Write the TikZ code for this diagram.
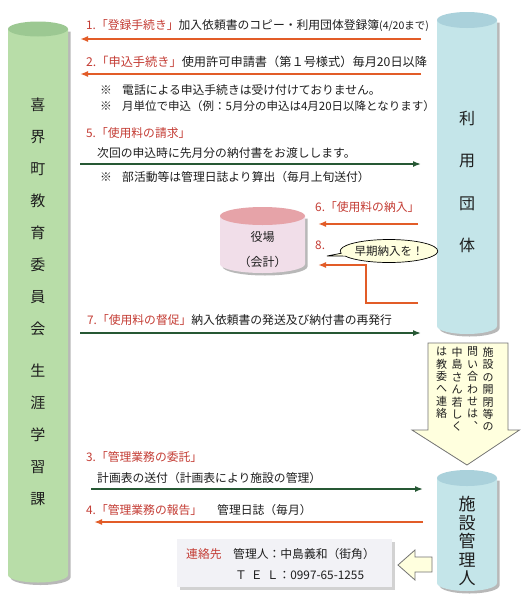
\documentclass[tikz,border=0pt]{standalone}
\usepackage{fontspec}
\newfontfamily\jp{Noto Sans CJK JP}
\usetikzlibrary{arrows.meta,shadows,shapes.callouts}
\definecolor{labred}{RGB}{196,60,52}
\definecolor{orng}{RGB}{226,92,40}
\definecolor{dgreen}{RGB}{38,88,52}
\definecolor{gbody}{RGB}{184,221,168}
\definecolor{gtop}{RGB}{156,200,146}
\definecolor{cbody}{RGB}{196,229,233}
\definecolor{ctop}{RGB}{170,209,219}
\definecolor{pbody}{RGB}{241,222,233}
\definecolor{ptop}{RGB}{230,163,168}
\definecolor{ylw}{RGB}{255,255,222}
\definecolor{boxgray}{RGB}{242,242,246}
\definecolor{txt}{RGB}{30,30,30}
\newcommand\mycyl[7]{%
  \fill[#6, drop shadow={shadow xshift=2.5pt,shadow yshift=-2.5pt,fill=black!55}]
    ({#1-#2},#3) -- ({#1-#2},#4) arc[start angle=180,end angle=360,x radius=#2pt,y radius=#5pt] -- ({#1+#2},#3) -- cycle;
  \fill[#7] (#1,#3) ellipse[x radius=#2pt,y radius=#5pt];
}
\begin{document}
\begin{tikzpicture}[x=1pt,y=-1pt,
  lab/.style={anchor=west,inner sep=0pt,text=txt,font=\jp\fontsize{11.8}{13}\selectfont},
  cyltext/.style={align=center,inner sep=0pt,text=txt},
  oarrow/.style={draw=orng,line width=1.8pt,-{Latex[length=8pt,width=6pt]}},
  garrow/.style={draw=dgreen,line width=1.5pt,-{Latex[length=8pt,width=6pt]}},
  hollow/.style={draw=black!55,line width=0.8pt,fill=ylw},
  vcol/.style={align=center,inner sep=0pt,text=txt,font=\jp\fontsize{11}{12.4}\selectfont}]
\useasboundingbox (0,0) rectangle (520,600);
\fill[white] (0,0) rectangle (520,600);

% cylinders
\mycyl{38}{30}{29}{575}{7.5}{gbody}{gtop}
\mycyl{467}{30}{20}{326}{8}{cbody}{ctop}
\mycyl{467}{30}{478}{583}{8}{cbody}{ctop}
\mycyl{262.5}{42.5}{216}{264}{9}{pbody}{ptop}

\node[cyltext,font=\jp\fontsize{15}{32}\selectfont] (kyoiku) at (38,302)
  {喜\\界\\町\\教\\育\\委\\員\\会\\[10pt]生\\涯\\学\\習\\課};
\node[cyltext,font=\jp\fontsize{16}{42.3}\selectfont] (dantai) at (467,182) {利\\用\\団\\体};
\node[cyltext,font=\jp\fontsize{17}{18.5}\selectfont] (kanri) at (467,541) {施\\設\\管\\理\\人};
\node[cyltext,font=\jp\fontsize{12}{25}\selectfont] (yakuba) at (262.5,250) {役場\\（会計）};

% coordinates for connectors
\coordinate (a1s) at (421,39);  \coordinate (a1e) at (80,39);
\coordinate (a2s) at (421,74);  \coordinate (a2e) at (80,74);
\coordinate (a5s) at (80,164);  \coordinate (a5e) at (421,164);
\coordinate (a6s) at (418,224); \coordinate (a6e) at (318,224);
\coordinate (a8s) at (418,303); \coordinate (a8m) at (366,265); \coordinate (a8e) at (318,265);
\coordinate (a7s) at (80,333);  \coordinate (a7e) at (421,333);
\coordinate (a3s) at (91,489);  \coordinate (a3e) at (423,489);
\coordinate (a4s) at (423,522); \coordinate (a4e) at (94,522);

\draw[oarrow] (a1s) -- (a1e);
\draw[oarrow] (a2s) -- (a2e);
\draw[garrow] (a5s) -- (a5e);
\draw[oarrow] (a6s) -- (a6e);
\draw[oarrow] (a8s) -| (a8m) -- (a8e);
\draw[garrow] (a7s) -- (a7e);
\draw[garrow] (a3s) -- (a3e);
\draw[oarrow] (a4s) -- (a4e);

% labels
\node[lab] (l1) at (86,26) {\textcolor{labred}{1.「登録手続き」}加入依頼書のコピー・利用団体登録簿{\fontsize{10.5}{11}\selectfont(4/20まで)}};
\node[lab,font=\jp\fontsize{12.2}{13}\selectfont] (l2) at (86,62) {\textcolor{labred}{2.「申込手続き」}使用許可申請書（第１号様式）毎月20日以降};
\node[lab] (n1m) at (100,90) {※};
\node[lab] (n1) at (122,90) {電話による申込手続きは受け付けておりません。};
\node[lab] (n2m) at (100,106) {※};
\node[lab,font=\jp\fontsize{11.5}{13}\selectfont] (n2) at (122,106) {月単位で申込（例：5月分の申込は4月20日以降となります）};
\node[lab] (l5) at (86,133) {\textcolor{labred}{5.「使用料の請求」}};
\node[lab] (t5) at (97,153) {次回の申込時に先月分の納付書をお渡しします。};
\node[lab] (n3m) at (100,177) {※};
\node[lab] (n3) at (122,177) {部活動等は管理日誌より算出（毎月上旬送付）};
\node[lab] (l6) at (315,207) {\textcolor{labred}{6.「使用料の納入」}};
\node[lab] (l8) at (315,245) {\textcolor{labred}{8.}};
\node[lab] (l7) at (87,320) {\textcolor{labred}{7.「使用料の督促」}納入依頼書の発送及び納付書の再発行};
\node[lab] (l3) at (86,457) {\textcolor{labred}{3.「管理業務の委託」}};
\node[lab] (t3) at (97,478) {計画表の送付（計画表により施設の管理）};
\node[lab] (l4) at (86,510) {\textcolor{labred}{4.「管理業務の報告」}};
\node[lab] (t4) at (217,510) {管理日誌（毎月）};

% callout
\node[ellipse callout,draw=black,line width=0.7pt,fill=ylw,minimum width=88pt,minimum height=23pt,inner sep=0pt,
  callout absolute pointer={(327,256)},font=\jp\fontsize{11.5}{12}\selectfont,text=txt] (bubble) at (389,251) {早期納入を！};

% big down arrow
\draw[hollow] (428,343) -- (508,343) -- (508,430) -- (519.5,430) -- (467,465) -- (412,430) -- (428,430) -- cycle;
\node[vcol,anchor=north] (c1) at (488,347) {施\\設\\の\\開\\閉\\等\\の};
\node[vcol,anchor=north] (c2) at (472.5,347) {問\\い\\合\\わ\\せ\\は\\︑};
\node[vcol,anchor=north] (c3) at (457,347) {中\\島\\さ\\ん\\若\\し\\く};
\node[vcol,anchor=north] (c4) at (441.5,347) {は\\教\\委\\へ\\連\\絡};

% contact box
\node[fill=boxgray,minimum width=215pt,minimum height=48pt,inner sep=0pt,
  drop shadow={shadow xshift=2.5pt,shadow yshift=-2.5pt,fill=black!35}] (contact) at (284.5,563) {};
\node[lab] (k1) at (186,554) {\textcolor{labred}{連絡先}};
\node[lab] (k2) at (233,554) {管理人：中島義和（街角）};
\node[lab] (k3) at (235,575) {Ｔ\hspace{4pt}Ｅ\hspace{4pt}Ｌ：0997-65-1255};

% hollow left arrow
\draw[hollow] (398,565) -- (415,550) -- (415,557) -- (432,557) -- (432,572) -- (415,572) -- (415,580) -- cycle;
\end{tikzpicture}
\end{document}
